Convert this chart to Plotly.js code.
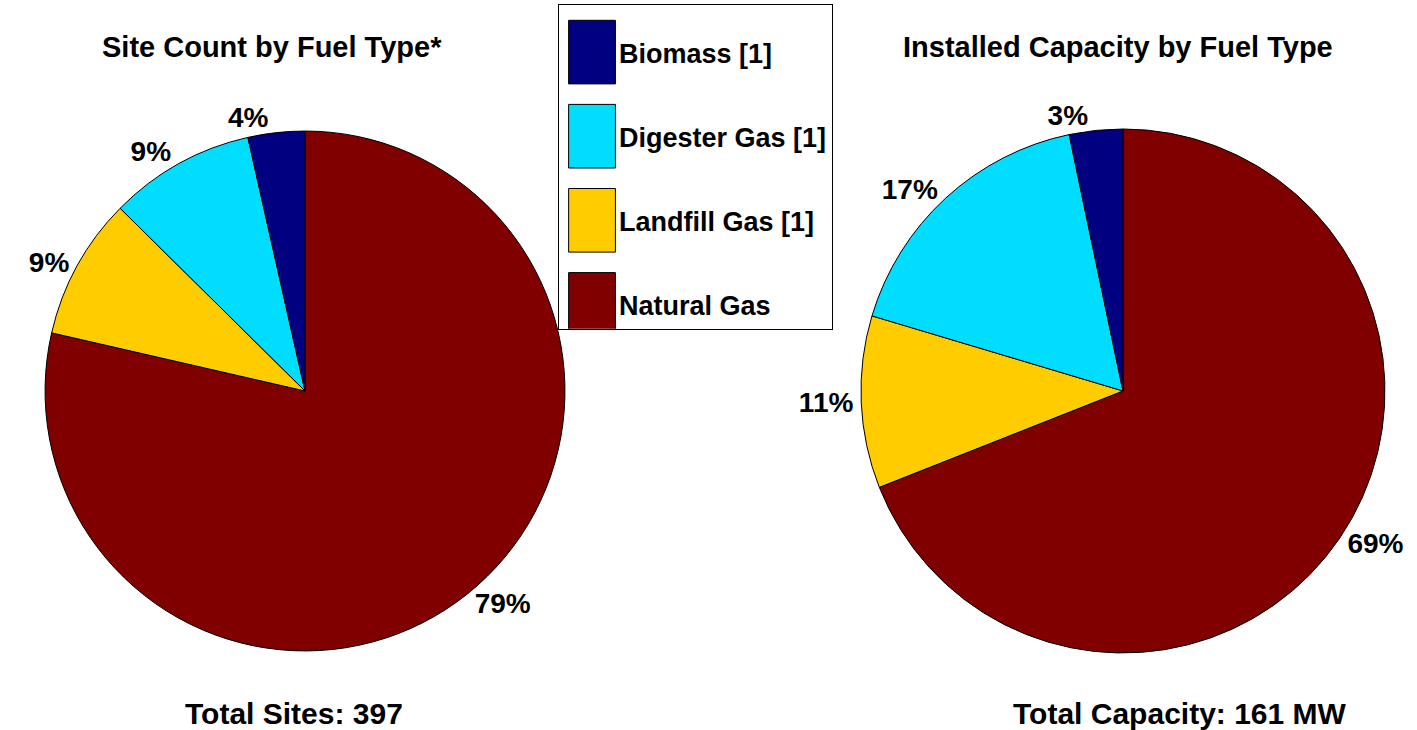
<!DOCTYPE html>
<html>
<head>
<meta charset="utf-8">
<script src="https://cdn.plot.ly/plotly-3.0.1.min.js"></script>
<style>
html, body { margin: 0; padding: 0; background: #fff; }
#chart { width: 1417px; height: 730px; }
.legend .legendpoints path.legendpie { transform: translate(33px, 0px) scale(3.9, 5.3); vector-effect: non-scaling-stroke; }
</style>
</head>
<body>
<div id="chart"></div>
<script>
// ---- data ----
const fuelTypes = ['Biomass [1]', 'Digester Gas [1]', 'Landfill Gas [1]', 'Natural Gas'];
const fuelColors = ['#000080', '#00DDFF', '#FFCC00', '#800000'];
const siteCounts = [14, 36, 35, 312];          // sites
const capacityMW = [5.3, 27.5, 17.1, 111.1];   // MW
const leftTitle = 'Site Count by Fuel Type*';
const rightTitle = 'Installed Capacity by Fuel Type';

const sum = a => a.reduce((s, v) => s + v, 0);
const rev = a => a.slice().reverse();
const FONT = 'Arial, "Liberation Sans", sans-serif';
const titleFont = { family: FONT, size: 29, color: '#000', weight: 'bold' };
const footFont = { family: FONT, size: 30, color: '#000', weight: 'bold' };
const pctFont = { family: FONT, size: 28, color: '#000', weight: 'bold' };
const legFont = { family: FONT, size: 27, color: '#000', weight: 'bold' };

const data = [];
// legend entries (tiny pies hidden under the main pie) so that each label sits in its own legend group
fuelTypes.forEach((name, i) => {
  data.push({
    type: 'pie', values: [1], labels: [name], sort: false,
    marker: { colors: [fuelColors[i]], line: { color: '#000', width: 1 } },
    textinfo: 'none', hoverinfo: 'skip', legendgroup: 'g' + i,
    domain: { x: [0.2, 0.2004], y: [0.45, 0.4508] }
  });
});

// slices run counter-clockwise from 12 o'clock in legend order, i.e. clockwise in reversed order
function mainPie(values, domain) {
  return {
    type: 'pie', values: rev(values), labels: rev(fuelTypes), sort: false,
    direction: 'clockwise', rotation: 0,
    marker: { colors: rev(fuelColors), line: { color: '#000', width: 1 } },
    texttemplate: '%{percent:.0%}', textposition: 'outside',
    textfont: pctFont, outsidetextfont: pctFont,
    showlegend: false, domain: domain
  };
}
data.push(mainPie(siteCounts, { x: [0.0318, 0.3987], y: [0.1082, 0.8206] }));
data.push(mainPie(capacityMW, { x: [0.6076, 0.9774], y: [0.1055, 0.8233] }));

const ann = (text, x, y, font) => ({
  text: text, x: x, y: y, xref: 'paper', yref: 'paper',
  xanchor: 'center', yanchor: 'middle', showarrow: false, font: font
});

const layout = {
  width: 1417, height: 730,
  margin: { l: 0, r: 0, t: 0, b: 0 },
  paper_bgcolor: '#fff', plot_bgcolor: '#fff',
  font: { family: FONT, color: '#000' },
  showlegend: true,
  legend: {
    x: 0.3938, xanchor: 'left', y: 0.995, yanchor: 'top',
    bordercolor: '#000', borderwidth: 1, bgcolor: '#fff',
    font: legFont, itemwidth: 50, tracegroupgap: 46,
    title: { text: ' ', font: { family: FONT, size: 18 } },
    itemclick: false, itemdoubleclick: false
  },
  annotations: [
    ann(leftTitle, 0.192, 0.9356, titleFont),
    ann(rightTitle, 0.789, 0.9356, titleFont),
    ann('Total Sites: ' + sum(siteCounts), 0.2075, 0.022, footFont),
    ann('Total Capacity: ' + Math.round(sum(capacityMW)) + ' MW', 0.8324, 0.022, footFont)
  ]
};

Plotly.newPlot('chart', data, layout, { displayModeBar: false, staticPlot: true });
</script>
</body>
</html>
